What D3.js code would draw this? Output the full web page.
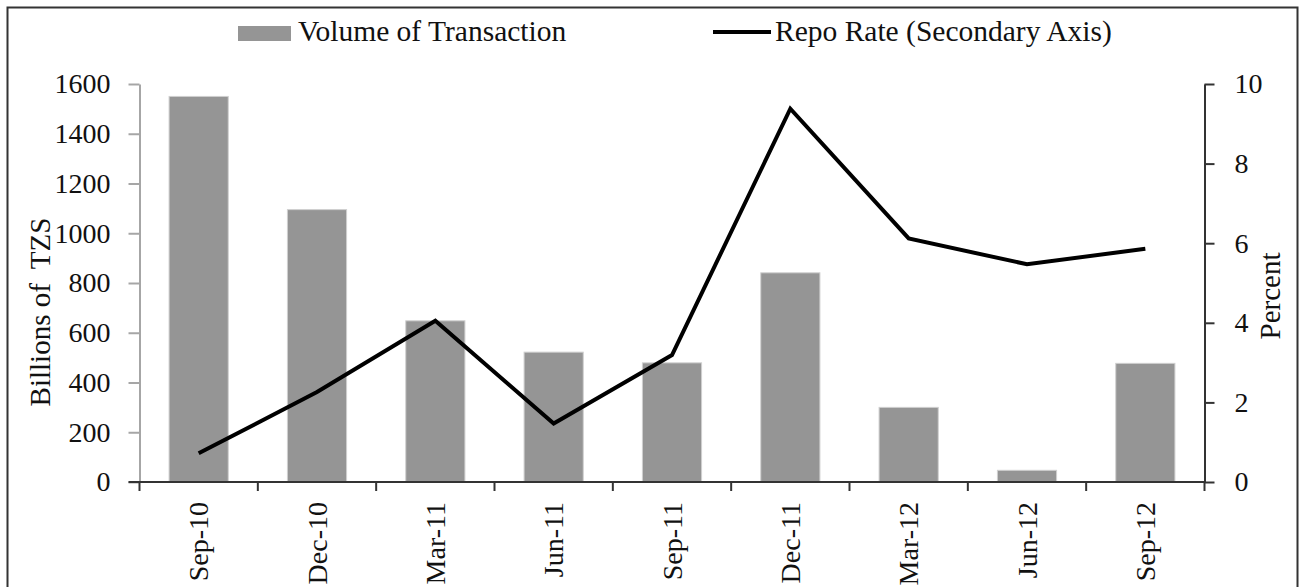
<!DOCTYPE html>
<html>
<head>
<meta charset="utf-8">
<script src="https://cdn.jsdelivr.net/npm/d3@7"></script>
<style>
  html, body { margin: 0; padding: 0; background: #fff; }
  svg { display: block; font-family: "Liberation Serif", "Times New Roman", serif; }
</style>
</head>
<body>
<svg id="chart" width="1299" height="587"></svg>
<script>
'use strict';

var quarters = ['Sep-10', 'Dec-10', 'Mar-11', 'Jun-11', 'Sep-11', 'Dec-11', 'Mar-12', 'Jun-12', 'Sep-12'];
var volume = [1550, 1095, 648, 522, 479, 841, 300, 47, 477];
var repoRate = [0.72, 2.26, 4.05, 1.47, 3.19, 9.38, 6.12, 5.47, 5.86];
var volumeTicks = [0, 200, 400, 600, 800, 1000, 1200, 1400, 1600];
var rateTicks = [0, 2, 4, 6, 8, 10];

function translate(x, y) {
  return 'translate(' + x + ', ' + y + ')';
}

var svg = d3.select('#chart');
var plotLeft = 139.5, plotRight = 1204.5, plotTop = 84, plotBottom = 482;

// outer frame
svg.append('rect')
  .attr('x', 7.5)
  .attr('y', 7.5)
  .attr('width', 1290)
  .attr('height', 620)
  .attr('fill', 'none')
  .attr('stroke', '#333')
  .attr('stroke-width', 2);

var xScale = d3.scaleBand()
  .domain(quarters)
  .range([plotLeft, plotRight])
  .paddingInner(0.5)
  .paddingOuter(0.25);

var yLeft = d3.scaleLinear().domain([0, 1600]).range([plotBottom, plotTop]);
var yRight = d3.scaleLinear().domain([0, 10]).range([plotBottom, plotTop]);

var rows = quarters.map(function (q, i) {
  return {quarter: q, volume: volume[i], rate: repoRate[i]};
});

// bars
svg.append('g')
  .selectAll('rect')
  .data(rows)
  .enter()
  .append('rect')
  .attr('x', function (d) { return xScale(d.quarter); })
  .attr('y', function (d) { return yLeft(d.volume); })
  .attr('width', xScale.bandwidth())
  .attr('height', function (d) { return plotBottom - yLeft(d.volume); })
  .attr('fill', '#959595')
  .attr('stroke', '#cfcfcf')
  .attr('stroke-width', 1);

// left axis (grey)
var leftAxis = svg.append('g')
  .attr('transform', translate(plotLeft, 0))
  .call(d3.axisLeft(yLeft)
    .tickValues(volumeTicks)
    .tickFormat(d3.format('d'))
    .tickSize(11)
    .tickPadding(18)
    .tickSizeOuter(0));
leftAxis.selectAll('.domain, .tick line').attr('stroke', '#a6a6a6').attr('stroke-width', 2);
leftAxis.selectAll('text')
  .attr('font-size', 28)
  .attr('font-family', '"Liberation Serif", serif')
  .attr('fill', '#111');

// right axis (dark)
var rightAxis = svg.append('g')
  .attr('transform', translate(plotRight, 0))
  .call(d3.axisRight(yRight)
    .tickValues(rateTicks)
    .tickFormat(d3.format('d'))
    .tickSize(10)
    .tickPadding(20)
    .tickSizeOuter(0));
rightAxis.selectAll('.domain, .tick line').attr('stroke', '#333').attr('stroke-width', 2);
rightAxis.selectAll('text')
  .attr('font-size', 28)
  .attr('font-family', '"Liberation Serif", serif')
  .attr('fill', '#111');

// x axis: ticks on band boundaries
var boundaries = quarters.map(function (q) {
  return xScale(q) - xScale.step() * xScale.paddingInner() / 2;
});
boundaries.push(plotRight);

var xAxis = svg.append('g');
xAxis.append('line')
  .attr('x1', plotLeft - 11)
  .attr('x2', plotRight)
  .attr('y1', plotBottom)
  .attr('y2', plotBottom)
  .attr('stroke', '#333')
  .attr('stroke-width', 2);
xAxis.selectAll('line.tick')
  .data(boundaries)
  .enter()
  .append('line')
  .attr('class', 'tick')
  .attr('x1', function (d) { return d; })
  .attr('x2', function (d) { return d; })
  .attr('y1', plotBottom)
  .attr('y2', plotBottom + 9)
  .attr('stroke', '#333')
  .attr('stroke-width', 2);
xAxis.selectAll('text')
  .data(quarters)
  .enter()
  .append('text')
  .attr('transform', function (d) {
    return translate(xScale(d) + xScale.bandwidth() / 2, plotBottom + 20) + ' rotate(-90)';
  })
  .attr('text-anchor', 'end')
  .attr('dy', '0.35em')
  .attr('font-size', 28)
  .attr('fill', '#111')
  .text(function (d) { return d; });

// repo rate line
var line = d3.line()
  .x(function (d) { return xScale(d.quarter) + xScale.bandwidth() / 2; })
  .y(function (d) { return yRight(d.rate); });

svg.append('path')
  .datum(rows)
  .attr('d', line)
  .attr('fill', 'none')
  .attr('stroke', '#000')
  .attr('stroke-width', 4)
  .attr('stroke-linejoin', 'miter');

// axis titles
svg.append('text')
  .attr('transform', translate(40, 312) + ' rotate(-90)')
  .attr('text-anchor', 'middle')
  .attr('dy', '0.35em')
  .attr('font-size', 29)
  .attr('fill', '#111')
  .style('white-space', 'pre')
  .text('Billions of  TZS');

svg.append('text')
  .attr('transform', translate(1270, 296) + ' rotate(-90)')
  .attr('text-anchor', 'middle')
  .attr('dy', '0.35em')
  .attr('font-size', 29)
  .attr('fill', '#111')
  .text('Percent');

// legend
var legend = svg.append('g');
legend.append('rect')
  .attr('x', 238)
  .attr('y', 26)
  .attr('width', 53)
  .attr('height', 15)
  .attr('fill', '#959595');
legend.append('text')
  .attr('x', 298)
  .attr('y', 41)
  .attr('font-size', 29.5)
  .attr('fill', '#111')
  .text('Volume of Transaction');
legend.append('line')
  .attr('x1', 713)
  .attr('x2', 771)
  .attr('y1', 32)
  .attr('y2', 32)
  .attr('stroke', '#000')
  .attr('stroke-width', 4);
legend.append('text')
  .attr('x', 775)
  .attr('y', 41)
  .attr('font-size', 29.5)
  .attr('fill', '#111')
  .text('Repo Rate (Secondary Axis)');
</script>
</body>
</html>
